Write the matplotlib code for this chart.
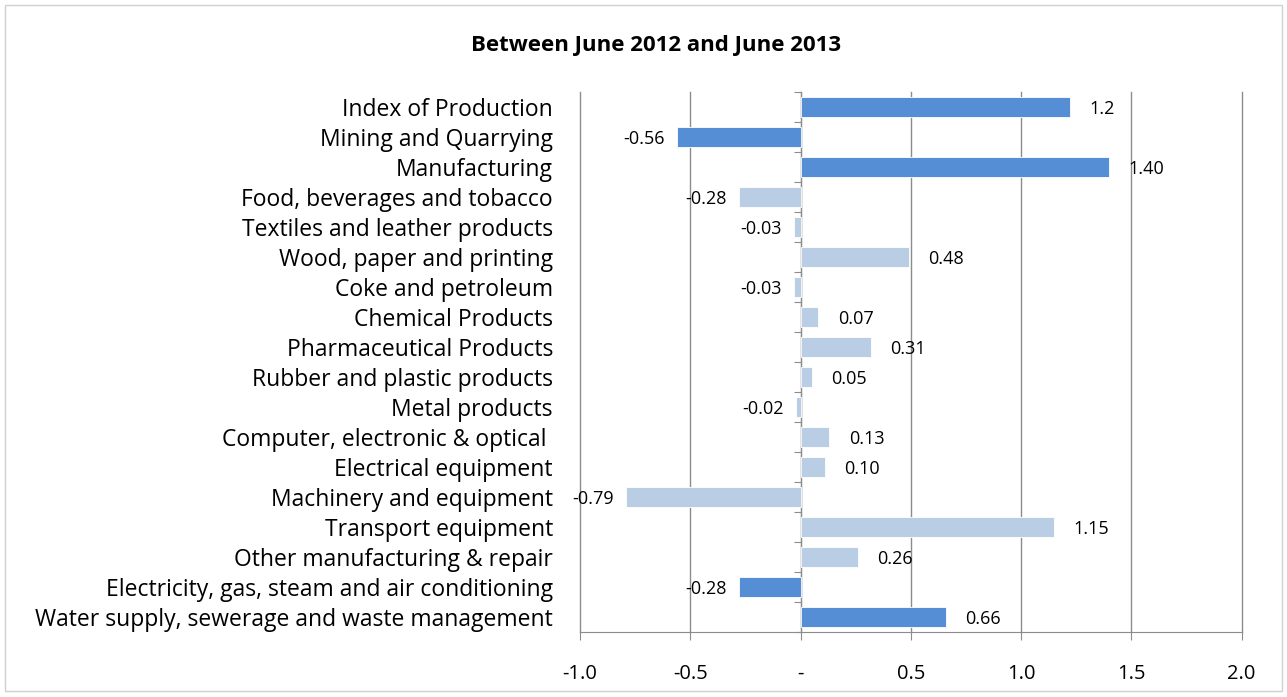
import numpy as np
import matplotlib
matplotlib.use('Agg')
import matplotlib.pyplot as plt
from matplotlib.patches import Rectangle

categories = ['Index of Production', 'Mining and Quarrying', 'Manufacturing',
              'Food, beverages and tobacco', 'Textiles and leather products',
              'Wood, paper and printing', 'Coke and petroleum', 'Chemical Products',
              'Pharmaceutical Products', 'Rubber and plastic products', 'Metal products',
              'Computer, electronic & optical ', 'Electrical equipment',
              'Machinery and equipment', 'Transport equipment',
              'Other manufacturing & repair',
              'Electricity, gas, steam and air conditioning',
              'Water supply, sewerage and waste management']
values = [1.22, -0.56, 1.40, -0.28, -0.03, 0.49, -0.03, 0.08, 0.32, 0.05, -0.02,
          0.13, 0.11, -0.79, 1.15, 0.26, -0.28, 0.66]
value_labels = ['1.2', '-0.56', '1.40', '-0.28', '-0.03', '0.48', '-0.03', '0.07', '0.31',
                '0.05', '-0.02', '0.13', '0.10', '-0.79', '1.15', '0.26', '-0.28', '0.66']
main_series = ['Index of Production', 'Mining and Quarrying', 'Manufacturing',
               'Electricity, gas, steam and air conditioning',
               'Water supply, sewerage and waste management']
xticks = [-1.0, -0.5, 0.0, 0.5, 1.0, 1.5, 2.0]
xtick_labels = ['-1.0', '-0.5', '-', '0.5', '1.0', '1.5', '2.0']

dark = '#558ED5'
light = '#B9CDE5'
grid_col = '#8C8C8C'

plt.rcParams['font.family'] = ['Open Sans', 'DejaVu Sans']

fig = plt.figure(figsize=(12.87, 6.97), dpi=100)
ax = fig.add_axes([0.4507, 0.0933, 0.514, 0.7747])

y = np.arange(len(categories))
colors = [dark if c in main_series else light for c in categories]
ax.barh(y, values, height=0.67, color=colors, edgecolor='white', linewidth=0.6, zorder=3)

ax.set_xlim(-1.0, 2.0)
ax.set_ylim(len(categories) - 0.5, -0.5)
ax.set_xticks(xticks)
ax.set_xticklabels(xtick_labels, fontsize=14.5)
ax.tick_params(axis='x', length=6, color=grid_col, pad=17)
ax.grid(axis='x', color=grid_col, linewidth=1, zorder=0)
for gl in ax.get_xgridlines():
    gl.set_clip_on(False)

# zero axis with category boundary ticks
ax.spines['left'].set_position(('data', 0))
ax.spines['left'].set_color(grid_col)
ax.set_yticks(np.arange(len(categories) + 1) - 0.5)
ax.set_yticklabels([])
ax.tick_params(axis='y', length=5, color=grid_col, direction='out')
for s in ['top', 'right']:
    ax.spines[s].set_visible(False)
ax.spines['bottom'].set_color(grid_col)

for i, cat in enumerate(categories):
    ax.text(-0.041, i, cat, transform=ax.get_yaxis_transform(), ha='right',
            va='center_baseline', fontsize=16.5)

for i, (v, lab) in enumerate(zip(values, value_labels)):
    if v >= 0:
        ax.annotate(lab, (v, i), xytext=(14, 0), textcoords='offset points',
                    ha='left', va='center_baseline', fontsize=13, zorder=4)
    else:
        ax.annotate(lab, (v, i), xytext=(-9, 0), textcoords='offset points',
                    ha='right', va='center_baseline', fontsize=13, zorder=4)

fig.text(0.51, 0.935, 'Between June 2012 and June 2013', ha='center', va='center',
         fontsize=16, fontweight='bold')

fig.patches.append(Rectangle((0.004, 0.009), 0.992, 0.984, transform=fig.transFigure,
                             fill=False, edgecolor='#D0D0D0', linewidth=1))

fig.savefig('out.png', dpi=100)
